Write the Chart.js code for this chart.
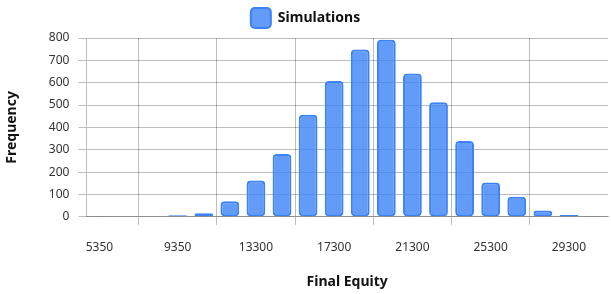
<!DOCTYPE html>
<html>
<head>
<meta charset="utf-8">
<script src="https://cdn.jsdelivr.net/npm/chart.js@4/dist/chart.umd.min.js"></script>
<style>
  html, body { margin: 0; padding: 0; background: #fff; }
  #wrap { width: 611px; height: 294px; }
</style>
</head>
<body>
<div id="wrap"><canvas id="chart"></canvas></div>
<script>
// histogram bins (final equity) and how many simulations fell in each
var binLabels = ['5350', '6680', '8020', '9350', '10700', '12000', '13300', '14700', '16000', '17300',
                 '18700', '20000', '21300', '22700', '24000', '25300', '26700', '28000', '29300', '30700'];
var counts = [1, 0, 0, 7, 16, 70, 162, 281, 457, 608, 748, 792, 641, 512, 339, 154, 90, 28, 8, 1];

var yTicks = { min: 0, max: 800, step: 100 };
var labelEvery = 3; // only every 3rd bin gets a label

var gridColor = 'rgba(0,0,0,0.26)';
var fontFamily = '"Noto Sans", "Open Sans", sans-serif';

// vertical lines sit halfway between the labelled bins
function xGridColor(ctx) {
    if (ctx.index === undefined) return 'rgba(0,0,0,0)';
    return (ctx.index % labelEvery === 2) ? gridColor : 'rgba(0,0,0,0)';
}

// draws the simulations histogram
function drawHistogram(elementId) {
    var config = {
        type: 'bar',
        data: {
            labels: binLabels,
            datasets: [{
                label: 'Simulations',
                data: counts,
                backgroundColor: 'rgba(59,130,246,0.8)',
                borderColor: 'rgb(59,130,246)',
                borderWidth: 2,
                borderRadius: 4,
                borderSkipped: false
            }]
        },
        options: {
            responsive: true,
            maintainAspectRatio: false,
            animation: false,
            plugins: {
                legend: {
                    labels: {
                        boxWidth: 20,
                        boxHeight: 20,
                        padding: 8,
                        useBorderRadius: true,
                        borderRadius: 4,
                        color: '#111',
                        font: { family: fontFamily, size: 14, weight: 'bold' }
                    }
                },
                tooltip: { enabled: false }
            },
            scales: {
                x: {
                    grid: { color: xGridColor, tickColor: xGridColor, tickLength: 8 },
                    border: { color: gridColor },
                    ticks: {
                        autoSkip: false,
                        maxRotation: 0,
                        padding: 16,
                        color: '#333',
                        font: { family: fontFamily, size: 12 },
                        callback: function (value, index) {
                            return index % labelEvery === 0 ? binLabels[index] : '';
                        }
                    },
                    title: {
                        display: true,
                        text: 'Final Equity',
                        color: '#111',
                        padding: { top: 2, bottom: 4 },
                        font: { family: fontFamily, size: 14, weight: 'bold' }
                    }
                },
                y: {
                    min: yTicks.min,
                    max: yTicks.max,
                    grid: { color: gridColor, tickLength: 8 },
                    border: { color: gridColor },
                    ticks: {
                        stepSize: yTicks.step,
                        padding: 9,
                        color: '#333',
                        font: { family: fontFamily, size: 12 }
                    },
                    title: {
                        display: true,
                        text: 'Frequency',
                        color: '#111',
                        padding: { top: 4, bottom: 19 },
                        font: { family: fontFamily, size: 14, weight: 'bold' }
                    }
                }
            }
        }
    };

    var ctx = document.getElementById(elementId).getContext('2d');
    window.histogram = new Chart(ctx, config);
}

drawHistogram('chart');
</script>
</body>
</html>
